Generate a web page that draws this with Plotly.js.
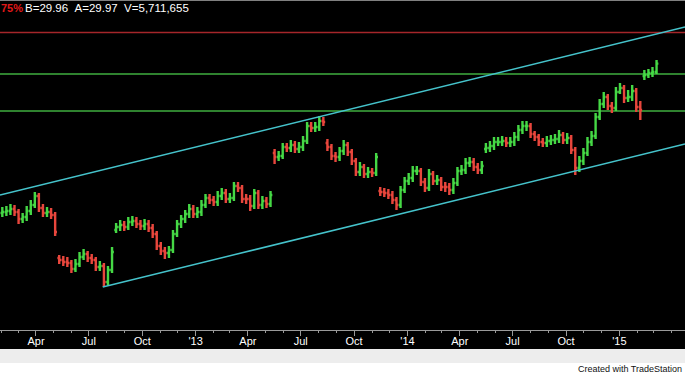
<!DOCTYPE html>
<html>
<head>
<meta charset="utf-8">
<script src="https://cdn.plot.ly/plotly-3.0.1.min.js"></script>
<style>
  html, body { margin: 0; padding: 0; background: #ffffff; }
  #chart { width: 685px; height: 375px; }
</style>
</head>
<body>
<div id="chart"></div>
<script>
// ---- header quote ----
const changePct = '75%';
const bidPrice = '29.96';
const askPrice = '29.97';
const volume = '5,711,655';

// ---- weekly bars (first bar week ending) ----
const weekStart = '2012-02-03';
const opens = [
  22.50,22.55,22.60,22.70,22.55,22.20,22.30,22.60,22.90,23.35,22.75,22.50,22.55,22.40,
  20.25,20.15,20.05,20.00,19.70,19.95,20.30,20.45,20.25,20.15,19.80,19.85,19.05,19.65,
  21.65,21.80,21.90,21.80,22.05,22.10,21.95,21.85,21.95,21.75,21.45,20.85,20.60,20.50,
  20.65,21.45,21.95,22.20,22.45,22.70,22.45,22.55,22.90,23.25,23.15,23.05,23.35,23.50,
  23.20,23.25,23.85,23.75,23.20,23.20,22.85,23.50,22.90,23.10,22.95,
  25.50,25.30,25.35,25.80,25.75,25.90,25.70,25.80,26.10,26.85,26.75,26.80,27.10,
  26.00,25.80,25.35,25.30,25.60,25.90,25.55,25.10,24.55,24.80,24.45,24.55,24.50,
  23.60,23.55,23.50,23.40,23.15,22.90,23.65,24.10,24.25,24.60,24.60,24.05,23.75,
  24.45,24.10,24.15,23.80,23.80,23.65,24.00,24.60,24.65,25.00,25.05,24.80,24.65,
  25.70,25.75,25.85,26.05,26.05,26.10,26.00,26.05,26.30,26.65,26.85,26.85,26.45,
  26.30,26.05,26.00,26.10,26.15,26.20,26.40,26.15,26.25,25.65,24.75,25.10,25.50,26.05,
  26.35,27.30,27.95,28.30,27.85,27.75,28.55,28.75,28.25,28.30,28.60,27.80,
  29.35,29.40,29.50,29.55
];
const highs = [
  22.80,22.85,22.95,22.90,22.70,22.50,22.85,23.15,23.55,23.50,22.95,22.80,22.75,22.55,
  20.40,20.35,20.30,20.15,20.20,20.55,20.70,20.60,20.45,20.30,20.10,20.00,19.85,20.80,
  22.00,22.15,22.10,22.30,22.35,22.30,22.15,22.20,22.15,21.95,21.60,21.05,20.80,20.85,
  21.65,22.15,22.40,22.65,22.95,22.90,22.80,23.15,23.45,23.45,23.35,23.60,23.75,23.70,
  23.50,24.05,24.05,23.90,23.45,23.40,23.70,23.65,23.35,23.30,23.60,
  25.70,25.60,26.00,26.00,26.15,26.10,26.05,26.35,27.05,27.05,27.05,27.35,27.30,
  26.20,25.95,25.55,25.80,26.15,26.05,25.70,25.25,25.05,24.95,24.80,24.75,25.50,
  23.80,23.75,23.70,23.60,23.30,23.85,24.30,24.50,24.85,24.85,24.75,24.25,24.70,
  24.60,24.40,24.30,24.05,24.00,24.25,24.80,24.90,25.25,25.30,25.25,25.00,25.10,
  26.00,26.10,26.30,26.30,26.35,26.30,26.30,26.55,26.90,27.10,27.10,27.00,26.60,
  26.45,26.25,26.35,26.40,26.45,26.65,26.55,26.50,26.40,25.80,25.35,25.75,26.30,26.60,
  27.50,28.20,28.55,28.45,28.05,28.80,29.00,28.90,28.65,28.90,28.75,28.10,
  29.65,29.70,29.80,30.15
];
const lows = [
  22.30,22.35,22.40,22.35,21.95,22.00,22.10,22.40,22.75,22.55,22.30,22.30,22.20,21.35,
  19.95,19.85,19.80,19.50,19.55,19.80,20.15,20.05,19.95,19.60,19.60,18.80,18.90,19.50,
  21.50,21.60,21.60,21.65,21.85,21.75,21.65,21.65,21.55,21.25,20.65,20.40,20.20,20.25,
  20.50,21.30,21.75,22.00,22.25,22.25,22.25,22.35,22.75,22.95,22.85,22.85,23.15,23.00,
  23.00,23.10,23.55,23.00,22.95,22.60,22.70,22.70,22.70,22.75,22.80,
  24.95,25.10,25.20,25.55,25.55,25.50,25.50,25.60,25.95,26.55,26.55,26.60,26.85,
  25.60,25.15,25.05,25.10,25.40,25.35,24.90,24.35,24.35,24.25,24.25,24.30,24.35,
  23.35,23.30,23.20,22.95,22.65,22.75,23.50,23.90,24.05,24.40,23.85,23.55,23.60,
  23.90,23.90,23.60,23.55,23.40,23.45,23.85,24.40,24.45,24.80,24.60,24.45,24.45,
  25.50,25.55,25.65,25.85,25.85,25.80,25.80,25.85,26.10,26.45,26.60,26.25,26.10,
  25.85,25.80,25.80,25.90,25.95,26.00,25.95,25.95,25.45,24.40,24.55,24.90,25.35,25.85,
  26.20,27.15,27.75,27.65,27.50,27.60,28.45,28.00,28.05,28.10,27.55,27.15,
  29.15,29.25,29.30,29.45
];
const closes = [
  22.55,22.60,22.70,22.55,22.20,22.30,22.60,22.90,23.35,22.75,22.50,22.55,22.40,21.55,
  20.15,20.05,20.00,19.70,19.95,20.30,20.45,20.25,20.15,19.80,19.85,19.05,19.65,20.55,
  21.80,21.90,21.80,22.05,22.10,21.95,21.85,21.95,21.75,21.45,20.85,20.60,20.50,20.65,
  21.45,21.95,22.20,22.45,22.70,22.45,22.55,22.90,23.25,23.15,23.05,23.35,23.50,23.20,
  23.25,23.85,23.75,23.20,23.20,22.85,23.50,22.90,23.10,22.95,23.40,
  25.30,25.35,25.80,25.75,25.90,25.70,25.80,26.10,26.85,26.75,26.80,27.10,27.05,
  25.80,25.35,25.30,25.60,25.90,25.55,25.10,24.55,24.80,24.45,24.55,24.50,25.30,
  23.55,23.50,23.40,23.15,22.90,23.65,24.10,24.25,24.60,24.60,24.05,23.75,24.45,
  24.10,24.15,23.80,23.80,23.65,24.00,24.60,24.65,25.00,25.05,24.80,24.65,24.85,
  25.75,25.85,26.05,26.05,26.10,26.00,26.05,26.30,26.65,26.85,26.85,26.45,26.30,
  26.05,26.00,26.10,26.15,26.20,26.40,26.15,26.25,25.65,24.75,25.10,25.50,26.05,26.35,
  27.30,27.95,28.30,27.85,27.75,28.55,28.75,28.25,28.30,28.60,27.80,27.65,
  29.40,29.50,29.55,29.97
];

// ---- axis labels ----
const tickVals = ['2012-04-01','2012-07-01','2012-10-01','2013-01-01','2013-04-01','2013-07-01',
                  '2013-10-01','2014-01-01','2014-04-01','2014-07-01','2014-10-01','2015-01-01'];
const tickText = ['Apr','Jul','Oct',"'13",'Apr','Jul','Oct',"'14",'Apr','Jul','Oct',"'15"];
const xRange = ['2012-01-30','2015-04-24'];
const yRange = [16.65, 33.15];

// ---- drawn levels ----
const redLevel = 31.53;
const greenLevels = [29.45, 27.60];
const upperChannelDates = ['2012-01-30','2015-04-24'];
const upperChannelPrices = [23.40, 31.80];
const lowerChannelDates = ['2012-07-25','2015-04-24'];
const lowerChannelPrices = [18.80, 25.95];

// build week dates
const dates = [];
const d0 = new Date(weekStart + 'T00:00:00Z');
for (let i = 0; i < closes.length; i++) {
  const d = new Date(d0.getTime() + i * 7 * 86400000);
  dates.push(d.toISOString().slice(0, 10));
}

const FONT = 'Liberation Sans, Arial, sans-serif';

const traces = [
  {
    type: 'ohlc', x: dates, open: opens, high: highs, low: lows, close: closes,
    increasing: { line: { color: '#45d845', width: 2.4 } },
    decreasing: { line: { color: '#e8463c', width: 2.4 } },
    tickwidth: 0.45, hoverinfo: 'skip', showlegend: false
  },
  {
    type: 'scatter', mode: 'lines', x: upperChannelDates, y: upperChannelPrices,
    line: { color: '#45c3cb', width: 1.5 }, hoverinfo: 'skip', showlegend: false
  },
  {
    type: 'scatter', mode: 'lines', x: lowerChannelDates, y: lowerChannelPrices,
    line: { color: '#45c3cb', width: 1.5 }, hoverinfo: 'skip', showlegend: false
  }
];

const shapes = [
  { type: 'line', xref: 'paper', x0: 0, x1: 1, yref: 'y', y0: redLevel, y1: redLevel,
    line: { color: '#a5262a', width: 1.5 }, layer: 'below' },
  ...greenLevels.map(v => ({ type: 'line', xref: 'paper', x0: 0, x1: 1, yref: 'y', y0: v, y1: v,
    line: { color: '#3fae3f', width: 1.5 }, layer: 'below' })),
  { type: 'line', xref: 'paper', x0: 0, x1: 1, yref: 'paper', y0: 1, y1: 1,
    line: { color: '#808080', width: 2 } },
  { type: 'rect', xref: 'paper', x0: 0, x1: 1, yref: 'paper', y0: -19/330, y1: -33/330,
    fillcolor: '#ededed', line: { width: 0 } },
  { type: 'rect', xref: 'paper', x0: 0, x1: 1, yref: 'paper', y0: -33/330, y1: -50/330,
    fillcolor: '#ffffff', line: { width: 0 } }
];

const nb = '\u00a0';
const annotations = [
  { xref: 'paper', yref: 'paper', x: -1/685, y: 1 - 8/330, xanchor: 'left', yanchor: 'middle',
    text: '<b>' + changePct + '</b>', showarrow: false,
    font: { family: FONT, size: 11, color: '#e01818' } },
  { xref: 'paper', yref: 'paper', x: 23/685, y: 1 - 8/330, xanchor: 'left', yanchor: 'middle',
    text: 'B=' + bidPrice + nb + nb + 'A=' + askPrice + nb + nb + 'V=' + volume, showarrow: false,
    font: { family: FONT, size: 11.5, color: '#ffffff' } },
  { xref: 'paper', yref: 'paper', x: 684/685, y: 1 - 369/330, xanchor: 'right', yanchor: 'middle',
    text: 'Created with TradeStation', showarrow: false,
    font: { family: FONT, size: 9, color: '#111111' } }
];

const layout = {
  width: 685, height: 375,
  margin: { l: 0, r: 0, t: 0, b: 45, pad: 0 },
  paper_bgcolor: '#000000', plot_bgcolor: '#000000',
  font: { family: FONT, color: '#ffffff' },
  showlegend: false,
  xaxis: {
    type: 'date', range: xRange, rangeslider: { visible: false },
    tickmode: 'array', tickvals: tickVals, ticktext: tickText,
    ticks: 'outside', ticklen: 5, tickcolor: '#9a9a9a', tickwidth: 1,
    ticklabelstandoff: -4,
    minor: { dtick: 'M1', tick0: '2012-01-01', ticks: 'outside', ticklen: 2, tickcolor: '#9a9a9a', showgrid: false },
    showline: true, linecolor: '#9a9a9a', linewidth: 1,
    showgrid: false, zeroline: false,
    tickfont: { family: FONT, size: 11, color: '#ffffff' },
    fixedrange: true
  },
  yaxis: {
    range: yRange, showgrid: false, zeroline: false, showticklabels: false,
    showline: false, ticks: '', fixedrange: true
  },
  shapes: shapes,
  annotations: annotations
};

Plotly.newPlot('chart', traces, layout, { displayModeBar: false, staticPlot: true });
</script>
</body>
</html>
